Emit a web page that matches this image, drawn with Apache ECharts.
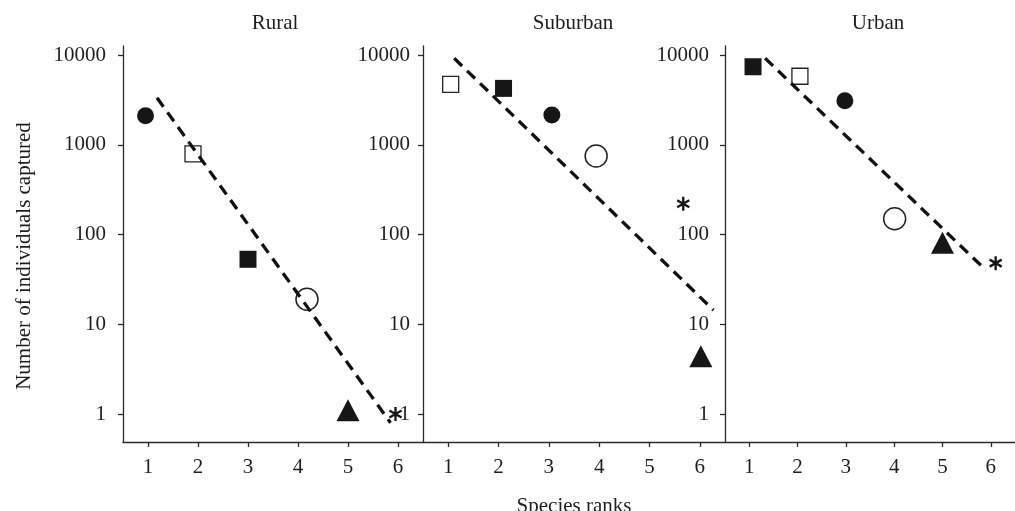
<!DOCTYPE html>
<html>
<head>
<meta charset="utf-8">
<script src="https://cdn.jsdelivr.net/npm/echarts@6/dist/echarts.min.js"></script>
<style>html,body{margin:0;padding:0;background:#fff;}#chart{width:1015px;height:511px;}</style>
</head>
<body>
<div id="chart"></div>
<script>
// ---- data ----
const panelTitles = ['Rural', 'Suburban', 'Urban'];
const rankTicks = [1, 2, 3, 4, 5, 6];
const countTicks = [1, 10, 100, 1000, 10000];

const ruralX = [0.95, 1.9, 3.0, 4.18, 5.0, 5.95];
const ruralN = [2100, 790, 53, 19, 1.1, 1.0];
const ruralSpecies = ['filledCircle', 'openSquare', 'filledSquare', 'openCircle', 'triangle', 'asterisk'];
const ruralFitX = [1.18, 5.85];
const ruralFitN = [3340, 0.8];

const suburbanX = [1.05, 2.1, 3.06, 3.94, 5.67, 6.02];
const suburbanN = [4700, 4250, 2150, 750, 220, 4.4];
const suburbanSpecies = ['openSquare', 'filledSquare', 'filledCircle', 'openCircle', 'asterisk', 'triangle'];
const suburbanFitX = [1.12, 6.27];
const suburbanFitN = [9190, 14.4];

const urbanX = [1.08, 2.05, 2.98, 4.01, 5.0, 6.1];
const urbanN = [7400, 5800, 3100, 150, 81, 48];
const urbanSpecies = ['filledSquare', 'openSquare', 'filledCircle', 'openCircle', 'triangle', 'asterisk'];
const urbanFitX = [1.33, 5.9];
const urbanFitN = [9190, 40];

// ---- styling ----
const FONT = "'Liberation Serif', 'Times New Roman', serif";
const FS = 21;
const INK = '#161616';
const AXIS = '#2a2a2a';
const TEXT = '#1e1e1e';
const ASTERISK = 'path://M-1,-6L1,-6L1,6L-1,6Z M4.696,-3.866L5.696,-2.134L-4.696,3.866L-5.696,2.134Z M-5.696,-2.134L-4.696,-3.866L5.696,2.134L4.696,3.866Z';
const markerStyles = {
  filledCircle: { symbol: 'circle', symbolSize: 17, itemStyle: { color: INK, opacity: 1 } },
  openSquare: { symbol: 'rect', symbolSize: 16, itemStyle: { color: '#fff', borderColor: '#222', borderWidth: 1.3, opacity: 1 } },
  filledSquare: { symbol: 'rect', symbolSize: 17, itemStyle: { color: INK, opacity: 1 } },
  openCircle: { symbol: 'circle', symbolSize: 22, itemStyle: { color: '#fff', borderColor: '#222', borderWidth: 1.5, opacity: 1 } },
  triangle: { symbol: 'triangle', symbolSize: [23, 22], itemStyle: { color: INK, opacity: 1 } },
  asterisk: { symbol: ASTERISK, symbolSize: [14, 14], symbolKeepAspect: true, itemStyle: { color: INK, opacity: 1 } }
};

const panels = [
  { xs: ruralX, ns: ruralN, sp: ruralSpecies, fx: ruralFitX, fn: ruralFitN },
  { xs: suburbanX, ns: suburbanN, sp: suburbanSpecies, fx: suburbanFitX, fn: suburbanFitN },
  { xs: urbanX, ns: urbanN, sp: urbanSpecies, fx: urbanFitX, fn: urbanFitN }
];

const gridLefts = [123, 423, 725];
const gridWidths = [300, 302, 300];
const titleCenters = [270, 568, 873];
const yLabelMargins = [17, 13, 16];

const grids = [], xAxes = [], yAxes = [], series = [], titles = [];
panels.forEach((p, i) => {
  grids.push({ left: gridLefts[i], top: 46, width: gridWidths[i], height: 396, containLabel: false });
  xAxes.push({
    type: 'value', gridIndex: i, min: 0.5, max: 6.5,
    axisLine: { onZero: false, lineStyle: { color: AXIS, width: 1.3 } },
    axisTick: { length: 5, lineStyle: { color: AXIS, width: 1.3 }, customValues: rankTicks },
    axisLabel: { customValues: rankTicks, margin: 15, color: TEXT, fontFamily: FONT, fontSize: FS },
    splitLine: { show: false }
  });
  yAxes.push({
    type: 'log', gridIndex: i, min: 0.488, max: 12600, logBase: 10,
    axisLine: { lineStyle: { color: AXIS, width: 1.3 } },
    axisTick: { length: 5, lineStyle: { color: AXIS, width: 1.3 }, customValues: countTicks },
    axisLabel: { customValues: countTicks, margin: yLabelMargins[i], color: TEXT, fontFamily: FONT, fontSize: FS,
      formatter: v => String(Math.round(v)) },
    splitLine: { show: false }
  });
  series.push({
    type: 'scatter', xAxisIndex: i, yAxisIndex: i, z: 2,
    itemStyle: { opacity: 1 },
    data: p.xs.map((x, k) => Object.assign({ value: [x, p.ns[k]] }, markerStyles[p.sp[k]]))
  });
  series.push({
    type: 'line', xAxisIndex: i, yAxisIndex: i, z: 3, symbol: 'none',
    lineStyle: { color: '#111', width: 3.3, type: [11, 7] },
    data: p.fx.map((x, k) => [x, p.fn[k]])
  });
  titles.push({ text: panelTitles[i], left: titleCenters[i], top: 8, textAlign: 'center',
    textStyle: { fontFamily: FONT, fontSize: FS, fontWeight: 'normal', color: TEXT } });
});
titles.push({ text: 'Species ranks', left: 569, top: 491, textAlign: 'center',
  textStyle: { fontFamily: FONT, fontSize: FS, fontWeight: 'normal', color: TEXT } });

const chart = echarts.init(document.getElementById('chart'), null, { renderer: 'canvas' });
chart.setOption({
  backgroundColor: '#fff',
  animation: false,
  title: titles,
  grid: grids,
  xAxis: xAxes,
  yAxis: yAxes,
  series: series,
  graphic: [{
    type: 'text', x: 24, y: 256, rotation: Math.PI / 2,
    style: { text: 'Number of individuals captured', fontFamily: FONT, fontSize: FS, fill: TEXT,
      align: 'center', verticalAlign: 'middle' }
  }]
});
</script>
</body>
</html>
